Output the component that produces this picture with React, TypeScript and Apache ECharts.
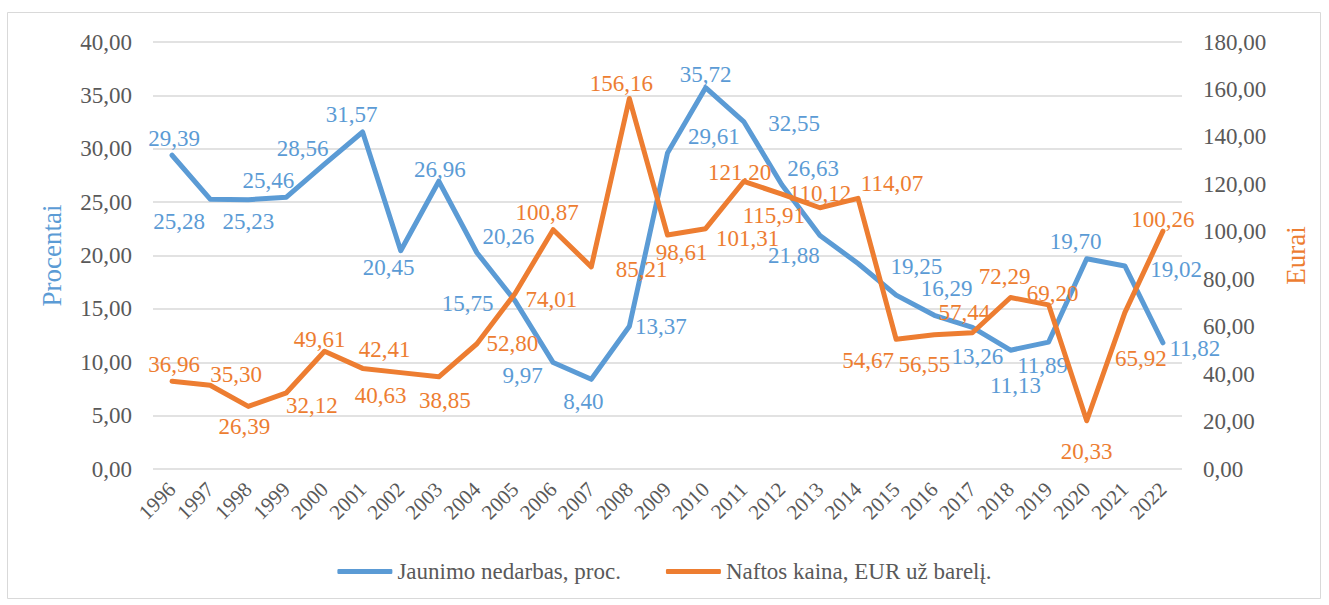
import React, { useEffect, useRef } from "react";
import * as echarts from "echarts";

const years = [
  "1996", "1997", "1998", "1999", "2000", "2001", "2002", "2003", "2004",
  "2005", "2006", "2007", "2008", "2009", "2010", "2011", "2012", "2013",
  "2014", "2015", "2016", "2017", "2018", "2019", "2020", "2021", "2022",
];

const unemployment = [
  29.39, 25.28, 25.23, 25.46, 28.56, 31.57, 20.45, 26.96, 20.26, 15.75, 9.97,
  8.4, 13.37, 29.61, 35.72, 32.55, 26.63, 21.88, 19.25, 16.29, 14.4, 13.26,
  11.13, 11.89, 19.7, 19.02, 11.82,
];

const oilPrice = [
  36.96, 35.3, 26.39, 32.12, 49.61, 42.41, 40.63, 38.85, 52.8, 74.01, 100.87,
  85.21, 156.16, 98.61, 101.31, 121.2, 115.91, 110.12, 114.07, 54.67, 56.55,
  57.44, 72.29, 69.2, 20.33, 65.92, 100.26,
];

const leftTicks = { min: 0, max: 40, interval: 5 };
const rightTicks = { min: 0, max: 180, interval: 20 };

const seriesNames = ["Jaunimo nedarbas, proc.", "Naftos kaina, EUR už barelį."];
const axisNames = ["Procentai", "Eurai"];

// label placement (style only): [position, dx, dy]; null = label hidden
type Place = [string, number, number] | null;
const bluePlace: Place[] = [
  ["top", 2, 0], ["bottom", -31, 5], ["bottom", 0, 5], ["top", -18, 0],
  ["top", -22, 1], ["top", -11, 0], ["bottom", -12, 0], ["top", 1, 5],
  ["right", 0, -16], ["left", -16, 3], ["left", -5, 13], ["bottom", -8, 5],
  ["right", 0, 0], ["right", 15, -16], ["top", 0, 4], ["right", 19, 2],
  ["right", 0, -16], ["bottom", -26, 3], ["right", 27, 3], ["right", 19, -7],
  null, ["bottom", 5, 12], ["bottom", 5, 18], ["bottom", -6, 6],
  ["top", -11, 0], ["right", 20, 4], ["right", 1, 6],
];
const orangePlace: Place[] = [
  ["top", 2, 0], ["top", 26, 6], ["bottom", -4, 3], ["right", -6, 13],
  ["top", -5, 5], ["top", 22, -2], ["bottom", -20, 6], ["bottom", 6, 7],
  ["right", 4, 0], ["right", 5, 6], ["top", -6, 0], ["right", 19, 3],
  ["top", -8, 2], ["bottom", 14, 0], ["right", 5, 10], ["top", -4, 8],
  ["bottom", -8, 4], ["top", 0, 3], ["top", 34, 2], ["bottom", -28, 4],
  ["bottom", -10, 13], ["top", -8, -3], ["top", -6, -4], ["top", 4, 6],
  ["bottom", 0, 14], ["bottom", 16, 29], ["top", 0, 5],
];

const BLUE = "#5B9BD5";
const ORANGE = "#ED7D31";
const TEXT = "#595959";
const FONT = "serif";

const fmt = (v: number) => v.toFixed(2).replace(".", ",");

function buildData(values: number[], places: Place[]) {
  return values.map((v, i) => {
    const p = places[i];
    if (!p) return { value: v, label: { show: false } };
    return { value: v, label: { show: true, position: p[0], offset: [p[1], p[2]] } };
  });
}

export default function App() {
  const ref = useRef<HTMLDivElement>(null);

  useEffect(() => {
    if (!ref.current) return;
    const chart = echarts.init(ref.current, null, { renderer: "svg" });
    const labelStyle = (color: string) => ({
      show: true,
      color,
      fontSize: 23,
      fontFamily: FONT,
      distance: 5,
      formatter: (p: any) => fmt(p.value),
    });
    chart.setOption({
      animation: false,
      backgroundColor: "#ffffff",
      textStyle: { fontFamily: FONT },
      graphic: [
        {
          type: "rect",
          shape: { x: 7.5, y: 12.5, width: 1313, height: 586 },
          style: { fill: "none", stroke: "#d9d9d9", lineWidth: 1 },
          silent: true,
        },
      ],
      grid: { left: 153, right: 147, top: 42, bottom: 136, containLabel: false },
      legend: {
        bottom: 17,
        left: "center",
        icon: "roundRect",
        itemWidth: 55,
        itemHeight: 5,
        itemGap: 45,
        textStyle: { color: TEXT, fontSize: 23, fontFamily: FONT },
        data: seriesNames,
      },
      xAxis: {
        type: "category",
        data: years,
        boundaryGap: true,
        axisLine: { show: false },
        axisTick: { show: false },
        axisLabel: {
          interval: 0,
          rotate: 45,
          color: TEXT,
          fontSize: 21,
          fontFamily: FONT,
          margin: 17,
        },
      },
      yAxis: [
        {
          type: "value",
          ...leftTicks,
          name: axisNames[0],
          nameLocation: "middle",
          nameRotate: 90,
          nameGap: 88,
          nameTextStyle: { color: BLUE, fontSize: 27, fontFamily: FONT },
          axisLine: { show: false },
          axisTick: { show: false },
          axisLabel: {
            color: TEXT,
            fontSize: 23,
            fontFamily: FONT,
            margin: 21,
            formatter: (v: number) => fmt(v),
          },
          splitLine: { show: true, lineStyle: { color: "#d9d9d9", width: 1.5 } },
        },
        {
          type: "value",
          ...rightTicks,
          name: axisNames[1],
          nameLocation: "middle",
          nameRotate: 90,
          nameGap: 100,
          nameTextStyle: { color: ORANGE, fontSize: 27, fontFamily: FONT },
          axisLine: { show: false },
          axisTick: { show: false },
          axisLabel: {
            color: TEXT,
            fontSize: 23,
            fontFamily: FONT,
            margin: 21,
            formatter: (v: number) => fmt(v),
          },
          splitLine: { show: false },
        },
      ],
      series: [
        {
          name: seriesNames[0],
          type: "line",
          yAxisIndex: 0,
          data: buildData(unemployment, bluePlace),
          symbol: "circle",
          symbolSize: 1,
          itemStyle: { color: BLUE },
          lineStyle: { color: BLUE, width: 5, cap: "round", join: "round" },
          label: labelStyle(BLUE),
          z: 2,
        },
        {
          name: seriesNames[1],
          type: "line",
          yAxisIndex: 1,
          data: buildData(oilPrice, orangePlace),
          symbol: "circle",
          symbolSize: 1,
          itemStyle: { color: ORANGE },
          lineStyle: { color: ORANGE, width: 5, cap: "round", join: "round" },
          label: labelStyle(ORANGE),
          z: 3,
        },
      ],
    });
    return () => chart.dispose();
  }, []);

  return (
    <div
      ref={ref}
      style={{
        position: "absolute",
        left: 0,
        top: 0,
        width: 1329,
        height: 605,
        background: "#ffffff",
      }}
    />
  );
}
